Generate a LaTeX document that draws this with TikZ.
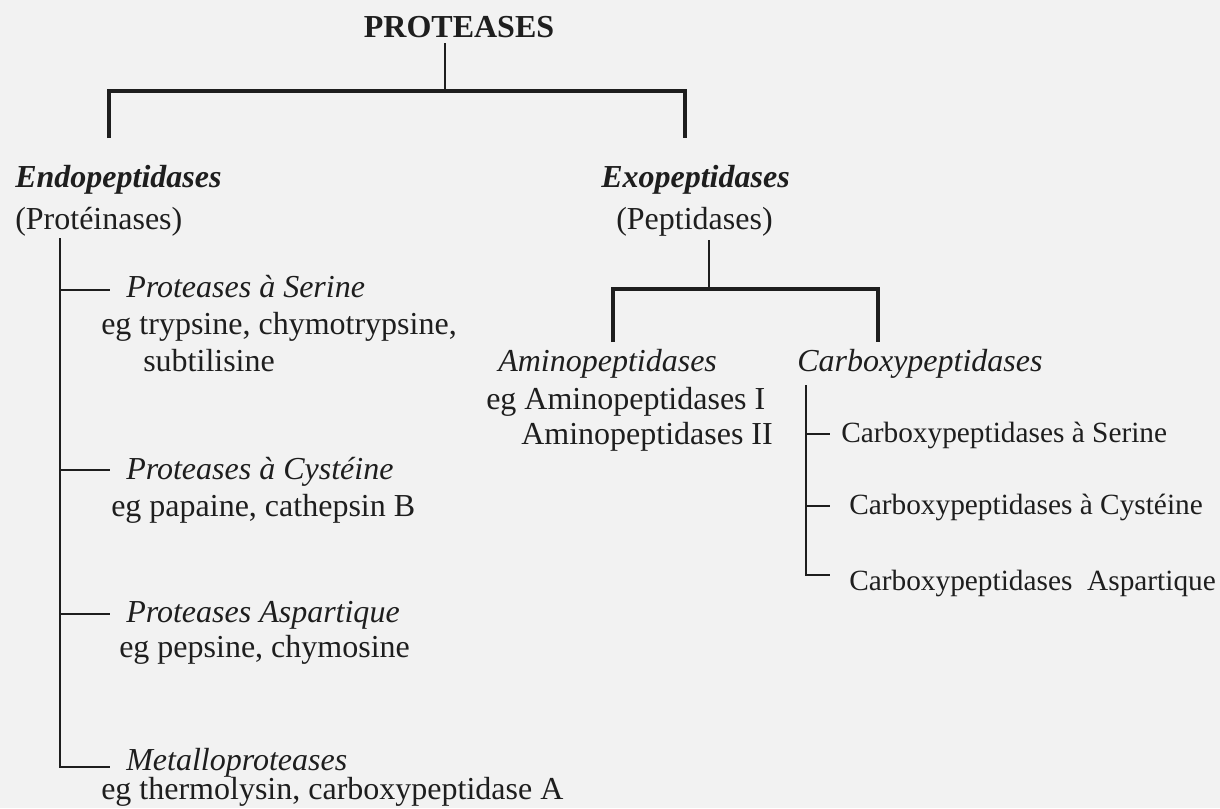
\documentclass[tikz,border=0pt]{standalone}
\usepackage{fontspec}
\setmainfont{Liberation Serif}
\definecolor{ink}{RGB}{30,30,30}
\definecolor{paper}{RGB}{242,242,242}

\begin{document}
\begin{tikzpicture}[x=0.75pt,y=0.75pt,yscale=-1,xscale=1,
  txt/.style={anchor=base west, inner sep=0.75pt, text=ink, font=\fontsize{24}{28}\selectfont},
  sub/.style={txt, font=\fontsize{22}{26}\selectfont},
  bar/.style={draw=ink, line width=2.5pt},
  trunk/.style={draw=ink, line width=2pt},
  twig/.style={draw=ink, line width=1.2pt}]
%set diagram to the page size
\fill[paper] (0,0) rectangle (1220,808);
\useasboundingbox (0,0) rectangle (1220,808);

% Text Node
\draw (459,37) node (prot) [txt, anchor=base] {\textbf{PROTEASES}};
% Text Node
\draw (14,187) node (endo) [txt] {\textbf{\textit{Endopeptidases}}};
% Text Node
\draw (14,229) node (endoAlt) [txt] {(Protéinases)};
% Text Node
\draw (600,187) node (exo) [txt] {\textbf{\textit{Exopeptidases}}};
% Text Node
\draw (615,229) node (exoAlt) [txt] {(Peptidases)};

% Text Node
\draw (125,297) node (ser) [txt] {\textit{Proteases à Serine}};
\draw (100,334) node (serEg) [txt] {eg trypsine, chymotrypsine,};
\draw (142,371) node (serEgb) [txt] {subtilisine};
% Text Node
\draw (125,479) node (cys) [txt] {\textit{Proteases à Cystéine}};
\draw (110,516) node (cysEg) [txt] {eg papaine, cathepsin B};
% Text Node
\draw (125,622) node (asp) [txt] {\textit{Proteases Aspartique}};
\draw (118,657) node (aspEg) [txt] {eg pepsine, chymosine};
% Text Node
\draw (125,770) node (met) [txt] {\textit{Metalloproteases}};
\draw (100,799) node (metEg) [txt] {eg thermolysin, carboxypeptidase A};

% Text Node
\draw (497,371) node (amino) [txt] {\textit{Aminopeptidases}};
\draw (485,409) node (aminoEg) [txt] {eg Aminopeptidases I};
\draw (520,444) node (aminoEgb) [txt] {Aminopeptidases II};
% Text Node
\draw (796,371) node (carb) [txt] {\textit{Carboxypeptidases}};
\draw (840,442) node (carbSer) [sub] {Carboxypeptidases à Serine};
\draw (848,514) node (carbCys) [sub] {Carboxypeptidases à Cystéine};
\draw (848,590) node (carbAsp) [sub] {Carboxypeptidases\ \ Aspartique};

% junctions
\coordinate (rootTop) at (445,43);
\coordinate (rootJoin) at (445,91);
\coordinate (endoDrop) at (109,138);
\coordinate (exoDrop) at (685,138);
\coordinate (endoTop) at (60,238);
\coordinate (metEnd) at (110,767);
\coordinate (serEnd) at (110,290);
\coordinate (cysEnd) at (110,470);
\coordinate (aspEnd) at (110,614);
\coordinate (exoTop) at (709,240);
\coordinate (exoJoin) at (709,289);
\coordinate (aminoDrop) at (613,342);
\coordinate (carbDrop) at (878,342);
\coordinate (carbTop) at (806,385);
\coordinate (carbSerEnd) at (830,434);
\coordinate (carbCysEnd) at (830,506);
\coordinate (carbAspEnd) at (830,575);

%Straight Lines
\draw [trunk] (rootTop) -- (rootJoin) ;
\draw [bar] (endoDrop) |- (rootJoin) -| (exoDrop) ;
%Straight Lines
\draw [trunk] (endoTop) |- (metEnd) ;
\draw [twig] (serEnd -| endoTop) -- (serEnd) ;
\draw [twig] (cysEnd -| endoTop) -- (cysEnd) ;
\draw [twig] (aspEnd -| endoTop) -- (aspEnd) ;
%Straight Lines
\draw [trunk] (exoTop) -- (exoJoin) ;
\draw [bar] (aminoDrop) |- (exoJoin) -| (carbDrop) ;
%Straight Lines
\draw [trunk] (carbTop) |- (carbAspEnd) ;
\draw [twig] (carbSerEnd -| carbTop) -- (carbSerEnd) ;
\draw [twig] (carbCysEnd -| carbTop) -- (carbCysEnd) ;

\end{tikzpicture}
\end{document}
